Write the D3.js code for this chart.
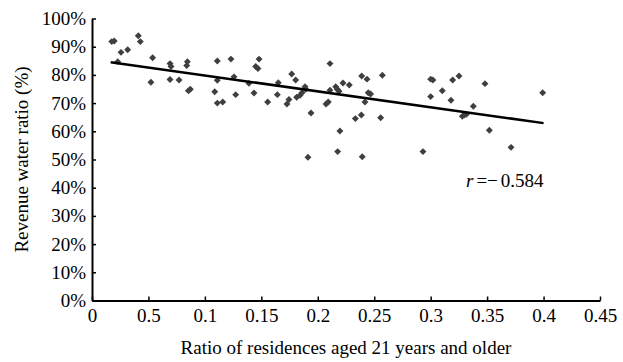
<!DOCTYPE html>
<html><head><meta charset="utf-8">
<script src="https://cdn.jsdelivr.net/npm/d3@7"></script>
<style>body{margin:0;background:#fff}svg{display:block}</style>
</head><body><svg id="c" width="623" height="362"></svg>
<script>
const xValues = [0.0175,0.0197,0.0228,0.0257,0.0316,0.041,0.0428,0.0522,0.0537,0.0691,0.0700,0.0691,0.0771,0.0845,0.0839,0.0854,0.0871,0.1087,0.111,0.111,0.111,0.1158,0.1231,0.1258,0.1273,0.139,0.1435,0.145,0.147,0.148,0.1556,0.1642,0.165,0.1727,0.1745,0.1769,0.1804,0.1813,0.1843,0.186,0.1887,0.1893,0.1913,0.194,0.2073,0.2093,0.2108,0.2108,0.2159,0.2173,0.2176,0.2188,0.2196,0.2223,0.2279,0.2333,0.2386,0.2389,0.2394,0.2418,0.2436,0.2447,0.2468,0.2557,0.2572,0.2932,0.300,0.302,0.300,0.3103,0.318,0.3195,0.3251,0.328,0.3298,0.3316,0.3378,0.3481,0.352,0.3712,0.3992];
const yValues = [91.8,92.0,84.7,88.0,88.9,93.9,91.8,77.4,86.1,84.0,83.0,78.4,78.2,84.7,83.3,74.4,74.9,74.0,84.9,78.1,70.0,70.4,85.6,79.3,73.0,77.0,73.6,83.0,82.3,85.6,70.4,73.0,77.2,69.7,71.3,80.3,78.2,72.1,72.8,73.7,75.8,74.9,50.8,66.5,69.7,70.4,84.0,74.6,75.8,74.9,52.8,74.2,60.1,77.1,76.4,64.5,65.8,79.6,51.0,70.4,78.5,73.7,73.2,64.8,79.9,52.8,78.5,78.2,72.3,74.4,71.0,78.2,79.6,65.3,65.8,66.0,68.9,76.9,60.4,54.3,73.7];
const trendX = [0.0165, 0.4];
const trendY = [84.5, 62.9];
const xTicks = [0,0.05,0.1,0.15,0.2,0.25,0.3,0.35,0.4,0.45];
const xTickLabels = ["0","0.5","0.1","0.15","0.2","0.25","0.3","0.35","0.4","0.45"];
const yTicks = [0,10,20,30,40,50,60,70,80,90,100];
const yTickLabels = ["0%","10%","20%","30%","40%","50%","60%","70%","80%","90%","100%"];

const FONT = "'Liberation Serif', 'Times New Roman', Times, 'DejaVu Serif', 'Noto Serif', serif";
const svg = d3.select("#c");
const m = {l:92, r:23, t:18.5, b:61.5};
const W = 623, H = 362;
const x = d3.scaleLinear().domain([0,0.45]).range([m.l, W-m.r]);
const y = d3.scaleLinear().domain([0,100]).range([H-m.b, m.t]);

const fs = 19;
const gx = svg.append("g").attr("transform",`translate(0,${H-m.b})`)
  .call(d3.axisBottom(x).tickValues(xTicks).tickFormat((d,i)=>xTickLabels[i]).tickSizeInner(-4).tickSizeOuter(0).tickPadding(6));
const gy = svg.append("g").attr("transform",`translate(${m.l},0)`)
  .call(d3.axisLeft(y).tickValues(yTicks).tickFormat((d,i)=>yTickLabels[i]).tickSizeInner(-4).tickSizeOuter(0).tickPadding(6));
[gx,gy].forEach(g=>{
  g.attr("font-family",FONT).attr("font-size",fs);
  g.select(".domain").attr("stroke","#000").attr("stroke-width",2);
  g.selectAll(".tick line").attr("stroke","#000").attr("stroke-width",1.5);
  g.selectAll(".tick text").attr("fill","#000");
});
gx.selectAll(".tick text").attr("dy","0.8em");

svg.append("g").selectAll("path").data(xValues).join("path")
  .attr("d", d3.symbol().type(d3.symbolSquare).size(24))
  .attr("transform",(d,i)=>`translate(${x(d)},${y(yValues[i])}) rotate(45)`)
  .attr("fill","#3f3f3f");

svg.append("line")
  .attr("x1",x(trendX[0])).attr("y1",y(trendY[0]))
  .attr("x2",x(trendX[1])).attr("y2",y(trendY[1]))
  .attr("stroke","#000").attr("stroke-width",2.5);

svg.append("text").attr("x",(m.l+W-m.r)/2).attr("y",354).attr("text-anchor","middle")
  .attr("font-family",FONT).attr("font-size",fs).text("Ratio of residences aged 21 years and older");
svg.append("text").attr("transform",`translate(28,${(m.t+H-m.b)/2}) rotate(-90)`).attr("text-anchor","middle")
  .attr("font-family",FONT).attr("font-size",fs).text("Revenue water ratio (%)");

const ann = svg.append("text").attr("x",466).attr("y",187).attr("font-family",FONT).attr("font-size",19);
ann.append("tspan").attr("font-style","italic").text("r");
ann.append("tspan").attr("dx",3).text("=−");
ann.append("tspan").attr("dx",3).text("0.584");
</script></body></html>
